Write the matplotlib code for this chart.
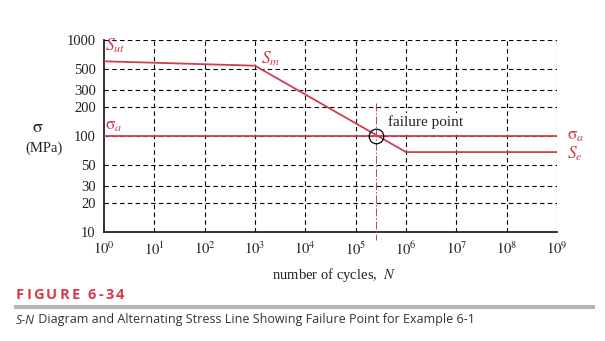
import numpy as np
import matplotlib
matplotlib.use('Agg')
import matplotlib.pyplot as plt
from matplotlib.lines import Line2D

# --- data ---
cycle_pts = [1, 1e3, 1e6, 1e9]           # S-N curve corners (cycles)
stress_pts = [600, 540, 68, 68]          # S-N curve corners (MPa)
sigma_a = 100                            # alternating stress (MPa)
failure_N = 2.5e5                        # failure point, cycles
failure_span = [221, 8.3]                # vertical marker extent (MPa)
y_ticks = [10, 20, 30, 50, 100, 200, 300, 500, 1000]
x_ticks = [10.0 ** k for k in range(10)]
x_labels = [f"$10^{{{k}}}$" for k in range(10)]

W, H = 605, 341
RED = '#d03c50'

plt.rcParams['font.family'] = ['Liberation Serif', 'DejaVu Serif']
plt.rcParams['mathtext.fontset'] = 'stix'

fig = plt.figure(figsize=(W / 100, H / 100), dpi=100)
ax = fig.add_axes([104 / W, 1 - 232 / H, 453 / W, 192 / H])

def fx(x, y):
    # pixel position -> figure fraction
    return x / W, 1 - y / H

# grid (dashed, black)
dash = (0, (4, 3))
for yv in y_ticks[1:]:
    ax.axhline(yv, color='black', lw=0.8, ls=dash, zorder=1)
for xv in x_ticks[1:]:
    ax.axvline(xv, color='black', lw=0.8, ls=dash, zorder=1)

# S-N curve and stress line
ax.plot(cycle_pts, stress_pts, color=RED, lw=1.3, zorder=3)
ax.axhline(sigma_a, color=RED, lw=1.3, zorder=3)
ax.plot([failure_N, failure_N], failure_span, color=RED, lw=0.7,
        ls=(0, (8, 2, 1.5, 2)), zorder=3, clip_on=False)
ax.plot([failure_N], [sigma_a], 'o', ms=10.5, mfc='none', mec='black',
        mew=0.9, zorder=4)

ax.set_xscale('log')
ax.set_yscale('log')
ax.set_xlim(1, 1e9)
ax.set_ylim(10, 1000)
ax.minorticks_off()
ax.set_xticks(x_ticks)
ax.set_xticklabels(x_labels)
ax.set_yticks(y_ticks)
ax.set_yticklabels([str(v) for v in y_ticks])
ax.tick_params(length=0, labelsize=10.5, colors='#222222')
ax.tick_params(axis='y', pad=6)
ax.tick_params(axis='x', pad=6)
for s in ['top', 'right']:
    ax.spines[s].set_visible(False)
for s in ['left', 'bottom']:
    ax.spines[s].set_linewidth(1.3)
    ax.spines[s].set_color('#222222')

# curve labels
ax.text(1.05, 860, r'$S_{ut}$', color=RED, fontsize=12.5, va='center', ha='left')
ax.text(1.3e3, 640, r'$S_m$', color=RED, fontsize=12.5, va='center', ha='left')
ax.text(1.05, 127, r'$\mathrm{\sigma}_a$', color=RED, fontsize=12.5, va='center', ha='left')
ax.text(1.6e9, sigma_a, r'$\mathrm{\sigma}_a$', color=RED, fontsize=12.5,
        va='center', ha='left', clip_on=False)
ax.text(1.6e9, stress_pts[-1] * 0.97, r'$S_e$', color=RED, fontsize=12.5,
        va='center', ha='left', clip_on=False)
ax.text(4.3e5, 138, 'failure point', color='#222222', fontsize=11,
        va='center', ha='left', zorder=2,
        bbox=dict(facecolor='white', edgecolor='none', pad=2.0))

# axis titles
fig.text(*fx(38, 128), r'$\mathrm{\sigma}$', fontsize=13, ha='center', va='center',
         color='#222222')
fig.text(*fx(44, 148), '(MPa)', fontsize=10.5, ha='center', va='center',
         color='#222222')
fig.text(*fx(334, 275), r'number of cycles,  $N$', fontsize=10.5, ha='center',
         va='center', color='#222222')

# figure caption block
fig.canvas.draw()
renderer = fig.canvas.get_renderer()

def put_tracked(x0, y0, s, tracking, **kw):
    x = x0
    for ch in s:
        t = fig.text(x / W, 1 - y0 / H, ch, va='center', ha='left', **kw)
        w = t.get_window_extent(renderer).width
        x += w + tracking

put_tracked(16, 295, 'FIGURE 6-34', 2.2, fontsize=10.5, fontweight='bold',
            color='#d9384d', family=['Open Sans', 'DejaVu Sans'])

fig.add_artist(Line2D([16 / W, 593 / W], [1 - 307 / H, 1 - 307 / H],
                      color='#b4b4b4', lw=2.9, transform=fig.transFigure))

t1 = fig.text(16 / W, 1 - 320 / H, 'S-N', fontsize=9, style='italic',
              va='center', ha='left', color='#333333', family=['Open Sans'])
w1 = t1.get_window_extent(renderer).width
fig.text((16 + w1) / W, 1 - 320 / H,
         ' Diagram and Alternating Stress Line Showing Failure Point for Example 6-1',
         fontsize=9, va='center', ha='left', color='#333333', family=['Open Sans'])

fig.savefig('out.png', dpi=100)
